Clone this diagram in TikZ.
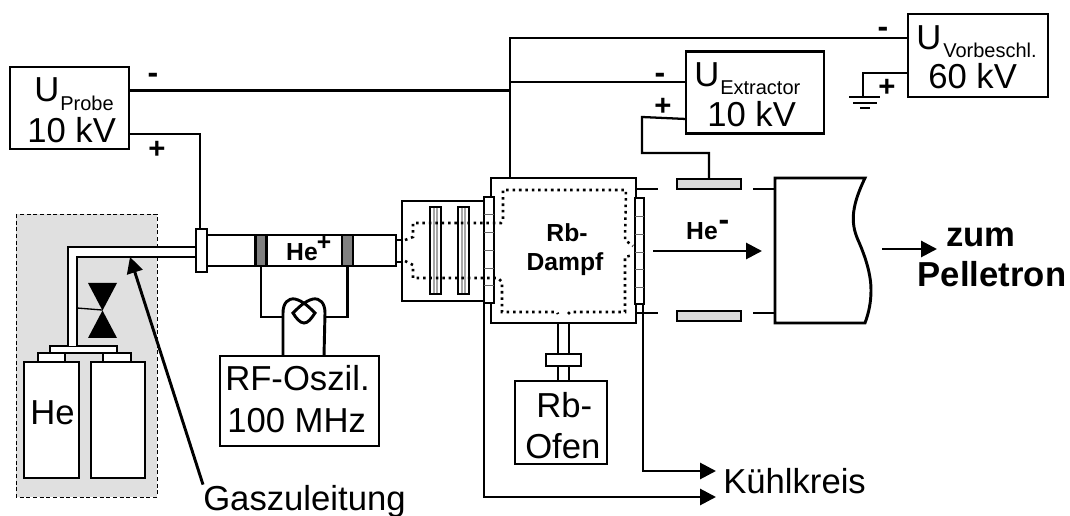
\documentclass[tikz,border=0pt]{standalone}
\usepackage{fontspec}
\setmainfont{Liberation Sans}
\usetikzlibrary{arrows.meta}
\tikzset{
  box/.style={draw,line width=2.2pt,fill=white,inner sep=0pt,outer sep=0pt},
  wire/.style={line width=2.2pt},
  thinwire/.style={line width=1.7pt},
  dots/.style={line width=1.9pt,dash pattern=on 1.9pt off 2.9pt},
  big/.style={anchor=base west,inner sep=0pt,font=\fontsize{26}{26}\selectfont},
  small/.style={anchor=base west,inner sep=0pt,font=\fontsize{15}{15}\selectfont},
  heavy/.style={anchor=base,inner sep=0pt,font=\fontsize{18.5}{18.5}\selectfont\bfseries},
  huge/.style={anchor=base,inner sep=0pt,font=\fontsize{26}{26}\selectfont\bfseries},
  sign/.style={anchor=base,inner sep=0pt,font=\fontsize{22}{22}\selectfont\bfseries},
  minus/.style={anchor=base,inner sep=0pt,font=\fontsize{24}{24}\selectfont\bfseries},
}
\begin{document}
\begin{tikzpicture}[x=0.75pt,y=-0.75pt,>={Triangle[length=12pt,width=12pt]}]
\useasboundingbox (0,0) rectangle (1070,516);
% gas cabinet
\draw[fill=black!12,densely dashed,line width=0.6pt] (16,214) rectangle (157,497);
\draw[box] (24,362) rectangle (79,478);
\draw[box] (91,362) rectangle (145,478);
\draw[box] (38,353) rectangle (65,362);
\draw[box] (103,353) rectangle (131,362);
\draw[box] (50,346) rectangle (117,353);
\fill[white] (68,247) rectangle (196,257);
\fill[white] (68,247) rectangle (77,346);
\draw[wire] (68,346) -- (68,247) -- (196,247);
\draw[wire] (77,346) -- (77,257) -- (196,257);
\fill (88,283) -- (117,283) -- (88,338) -- (117,338) -- cycle;
\draw[line width=1pt] (77,308) -- (102,310);
\node[big] (he) at (30,424) {He};
% source tube
\draw[box] (207,235) rectangle (396,266);
\node[box,fill=black!50,minimum width=8.25pt,minimum height=23.25pt] (band1) at (261,250.5) {};
\node[box,fill=black!50,minimum width=8.25pt,minimum height=23.25pt] (band2) at (347.5,250.5) {};
\node[box,minimum width=8.25pt,minimum height=32.25pt] (flange) at (201.5,250.5) {};
\node[heavy] (heplus) at (302,261) {He};
\node[heavy] (heplussup) at (324,251) {+};
% oscillator
\node[box,minimum width=119.25pt,minimum height=67.5pt] (rf) at (299.5,401) {};
\node[big] (rfa) at (225,390) {RF-Oszil.};
\node[big] (rfb) at (227,432) {100 MHz};
\coordinate (coilL) at (283,317);
\coordinate (coilR) at (325,317);
\draw[wire] (band1.south) |- (coilL);
\draw[wire] (band2.south) |- (coilR);
\draw[wire] (283,356) -- (283,313) .. controls (283,303) and (288,298) .. (295,299)
  .. controls (303,301) and (309,307) .. (315,313) .. controls (311,319) and (308,323) .. (304,323)
  .. controls (300,323) and (296,318) .. (293,313) .. controls (299,307) and (305,301) .. (313,299)
  .. controls (320,298) and (325,303) .. (325,313) -- (324,356);
% probe supply and gas line
\node[box,minimum width=89.25pt,minimum height=61.5pt] (probe) at (69.5,108) {};
\node[big] (probeu) at (34,102) {U};
\node[small] (probesub) at (60,111) {Probe};
\node[big] (probeval) at (27,143) {10 kV};
\node[minus] (probem) at (153,84) {-};
\node[sign] (probep) at (157,159) {+};
\coordinate (flangetop) at (200,229);
\coordinate (tapA) at (510,90.5);
\draw[wire] (probe.east |- 0,134) -| (flangetop);
\draw[wire] (probe.east |- tapA) -- (tapA);
\coordinate (gastip) at (130,257);
\node[big] (gas) at (203,510) {Gaszuleitung};
\draw[->,wire] (gas.north west) -- (gastip);
% extractor lens box
\draw[box] (402,201) rectangle (484,301);
\draw[box] (396,240) rectangle (402,262);
\draw[box] (430,207) rectangle (441,294);
\draw[box] (458,207) rectangle (469,294);
\draw[black!35,line width=1pt] (434,208) -- (434,293);
\draw[black!35,line width=1pt] (437,208) -- (437,293);
\draw[black!35,line width=1pt] (462,208) -- (462,293);
\draw[black!35,line width=1pt] (465,208) -- (465,293);
% Rb cell
\node[box,minimum width=108.75pt,minimum height=108.75pt] (rb) at (563.5,250.5) {};
\draw[box] (484,197) rectangle (494,303);
\draw[box] (635,198) rectangle (644,304);
\foreach \y in {214,232,250,268,285}
  \draw[black!60,line width=0.7pt] (484,\y) -- (494,\y);
\foreach \y in {216,234,252,269,287}
  \draw[black!60,line width=0.7pt] (635,\y) -- (644,\y);
\draw[dots] (405,240) -- (413,237) -- (413,223) -- (501,223) -- (503,219) -- (503,190) -- (626,190) -- (625,240) -- (633,246);
\draw[dots] (405,261) -- (413,265) -- (413,278) -- (498,278) -- (502,282) -- (502,312) -- (557,312) -- (558,314);
\draw[dots] (568,314) -- (570,312) -- (625,312) -- (625,257) -- (633,255);
\node[heavy] (rbtop) at (567,242) {Rb-};
\node[heavy] (rbbot) at (565,271) {Dampf};
% oven
\node[box,minimum width=69pt,minimum height=62.25pt] (ofen) at (561,422.5) {};
\draw[box] (558,323) rectangle (569,381);
\node[box,minimum width=26.25pt,minimum height=9pt] (ofenfl) at (563.5,360) {};
\node[big] (ofena) at (536,417) {Rb-};
\node[big] (ofenb) at (525,458) {Ofen};
% cooling
\coordinate (coolA) at (716,497);
\coordinate (coolB) at (716,471);
\draw[->,wire] (484,303) |- (coolA);
\draw[->,wire] (643,304) |- (coolB);
\node[big] (kuehl) at (723,493) {Kühlkreis};
% beam section
\draw[wire] (637,189) -- (658,189);
\draw[wire] (637,313) -- (658,313);
\draw[wire] (753,189) -- (775,189);
\draw[wire] (753,313) -- (775,313);
\node[box,fill=black!15,minimum width=48pt,minimum height=7.5pt] (plateA) at (709,184) {};
\node[box,fill=black!15,minimum width=48pt,minimum height=7.5pt] (plateB) at (709,316) {};
\draw[wire] (775,178) -- (865,178) .. controls (852,205) and (850,222) .. (858,240)
  .. controls (866,258) and (871,275) .. (871,290) .. controls (871,302) and (869,312) .. (865,323) -- (775,323) -- cycle;
\node[heavy] (heminus) at (702,240) {He};
\node[minus] (heminussup) at (724,231) {-};
\coordinate (beamA) at (653,251);
\coordinate (beamB) at (762,251);
\draw[->,wire] (beamA) -- (beamB);
\coordinate (outA) at (882,249);
\coordinate (outB) at (937,249);
\draw[->,wire] (outA) -- (outB);
\node[huge] (zum) at (981,247) {zum};
\node[huge] (pell) at (992,287) {Pelletron};
% extractor supply
\node[box,minimum width=103.5pt,minimum height=61.5pt] (extractor) at (755,92.5) {};
\node[big] (extu) at (694,87) {U};
\node[small] (extsub) at (720,95) {Extractor};
\node[big] (extval) at (707,127) {10 kV};
\node[minus] (extm) at (660,84) {-};
\node[sign] (extp) at (663,116) {+};
\coordinate (tapB) at (510,82);
\draw[wire] (tapB) -- (extractor.west |- tapB);
\coordinate (extA) at (642,117);
\coordinate (extB) at (642,153);
\draw[thinwire] (extractor.west |- 0,119) -- (extA) -- (extB) -| (plateA.north);
% pre-acceleration supply
\node[box,minimum width=105pt,minimum height=62.25pt] (vorbeschl) at (978,55.5) {};
\node[big] (voru) at (916,50) {U};
\node[small] (vorsub) at (943,58) {Vorbeschl.};
\node[big] (vorval) at (928,89) {60 kV};
\node[minus] (vorm) at (883,38) {-};
\node[sign] (vorp) at (887,97) {+};
\coordinate (topA) at (510,38);
\draw[wire] (rb.north -| topA) -- (topA) -- (vorbeschl.west |- topA);
\coordinate (gnd) at (863,97);
\draw[thinwire] (vorbeschl.west |- 0,73) -| (gnd);
\draw[thinwire] (849,97) -- (880,97);
\draw[thinwire] (853,103) -- (877,103);
\draw[thinwire] (860,108) -- (870,108);
\end{tikzpicture}
\end{document}
